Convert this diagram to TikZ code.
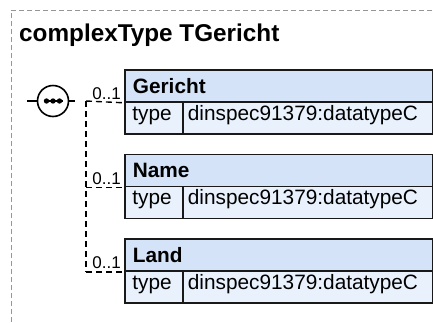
\documentclass[tikz,border=0pt]{standalone}
\usepackage{fontspec}
\setmainfont{Liberation Sans}
\definecolor{hdrfill}{RGB}{213,227,248}
\definecolor{rowfill}{RGB}{233,241,252}
\definecolor{boxline}{RGB}{25,25,25}
\definecolor{framegray}{RGB}{150,150,150}
\begin{document}
\begin{tikzpicture}[x=1pt,y=-1pt,
  titletext/.style={font=\bfseries\fontsize{24.3}{28}\selectfont, inner sep=0pt, anchor=base west},
  hdr/.style={draw=boxline, line width=1.8pt, fill=hdrfill, anchor=north west,
    minimum width=308pt, minimum height=32pt, inner xsep=8pt, inner ysep=0pt,
    text width=292pt, align=left, font=\bfseries\fontsize{20.8}{24}\selectfont,
    text height=14.6pt, text depth=0pt},
  cellbase/.style={draw=boxline, line width=1.8pt, fill=rowfill, anchor=north west,
    minimum height=32pt, inner ysep=0pt, align=left,
    font=\fontsize{20.8}{24}\selectfont, text height=14.6pt, text depth=9.6pt},
  typecell/.style={cellbase, minimum width=58pt, inner xsep=7.5pt, text width=43pt},
  valcell/.style={cellbase, minimum width=250pt, inner xsep=5pt, text width=240pt},
  mult/.style={font=\fontsize{17}{20}\selectfont, inner sep=0pt, anchor=base east},
  conn/.style={draw=black, line width=1.4pt, dash pattern=on 6pt off 4pt},
  stub/.style={draw=black, line width=1.4pt},
  outer/.style={draw=framegray, line width=1pt, dash pattern=on 5pt off 3pt}
]
\useasboundingbox (0,0) rectangle (433,322);
% frame
\draw[outer] (440,10) -- (11,10) -- (11,330);
\node[titletext] (title) at (19,41) {complexType TGericht};
% sequence compositor
\node[circle, draw=black, fill=white, line width=1.6pt, minimum size=31pt, inner sep=0pt] (seq) at (53,101) {};
\draw[line width=1.4pt] ([xshift=-9.5pt]seq.center) -- ([xshift=9.5pt]seq.center);
\foreach \dx in {-6.5,0,6.5} \fill ([xshift=\dx pt]seq.center) circle[radius=2.7pt];
\coordinate (instub) at (27,101);
\coordinate (outstub) at (75,101);
\draw[stub] (instub) -- (seq.west);
\draw[stub] (seq.east) -- (outstub);
\coordinate (vx) at (86,101);
% boxes
\node[hdr] (gericht) at (124,69) {Gericht};
\node[typecell] (gerichtT) at (124,101) {type};
\node[valcell] (gerichtV) at (182,101) {dinspec91379:datatypeC};
\node[hdr] (name) at (124,153.5) {Name};
\node[typecell] (nameT) at (124,185.5) {type};
\node[valcell] (nameV) at (182,185.5) {dinspec91379:datatypeC};
\node[hdr] (land) at (124,238) {Land};
\node[typecell] (landT) at (124,270) {type};
\node[valcell] (landV) at (182,270) {dinspec91379:datatypeC};
% connectors
\draw[conn] (vx) -- (gericht.south west);
\draw[conn] (vx) -- (land.south west -| vx);
\draw[conn] (name.south west -| vx) -- (name.south west);
\draw[conn] (land.south west -| vx) -- (land.south west);
% multiplicities
\node[mult] (mG) at ([xshift=-3pt,yshift=3pt]gericht.south west) {0..1};
\node[mult] (mN) at ([xshift=-3pt,yshift=3pt]name.south west) {0..1};
\node[mult] (mL) at ([xshift=-3pt,yshift=3pt]land.south west) {0..1};
\end{tikzpicture}
\end{document}
